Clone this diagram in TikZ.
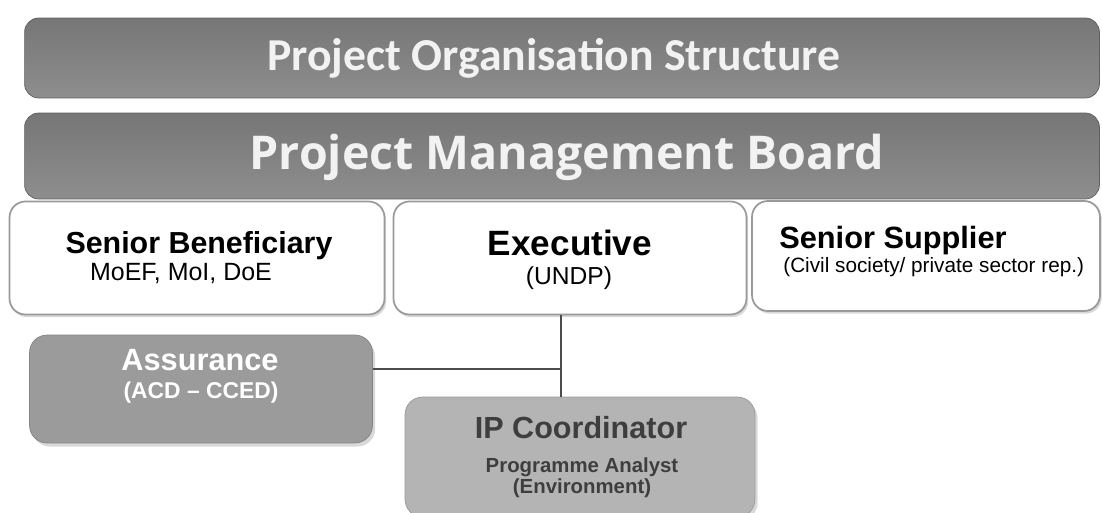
\documentclass[tikz,border=0pt]{standalone}
\usepackage{fontspec}
\setmainfont{Liberation Sans}
\newfontfamily\barfont{Open Sans}
\newfontfamily\capfont{Carlito}
\usetikzlibrary{shadows}

\definecolor{bargray}{HTML}{8E8E8E}
\definecolor{bardark}{HTML}{767676}
\definecolor{assgray}{HTML}{9B9B9B}
\definecolor{ipgray}{HTML}{B4B4B4}
\definecolor{ipdark}{HTML}{3E3E3E}
\definecolor{edgegray}{HTML}{9A9A9A}

\newcommand{\fs}[1]{\fontsize{#1}{#1}\selectfont}

\tikzset{
  bar/.style={rounded corners=8pt, draw=bardark!80!black, top color=bardark, bottom color=bargray, inner sep=0pt},
  bartext/.style={text=white!95!black, inner sep=0pt},
  whitebox/.style={rounded corners=9pt, draw=edgegray, fill=white, line width=1pt, inner sep=0pt,
    drop shadow={opacity=0.3, shadow xshift=1pt, shadow yshift=-1.5pt}},
  graybox/.style={rounded corners=10pt, fill=#1, draw=#1!85!black, line width=0.4pt, inner sep=0pt,
    drop shadow={opacity=0.3, shadow xshift=1.5pt, shadow yshift=-2pt}},
  head/.style={font=\bfseries\fs{#1}, inner sep=0pt},
  sub/.style={font=\fs{#1}, inner sep=0pt},
  link/.style={draw=black!70, line width=0.6pt}
}

\begin{document}
\begin{tikzpicture}[x=0.02cm, y=-0.02cm]
\useasboundingbox (0,0) rectangle (1102,513);

% header bars
\node[bar, minimum width=21.5cm, minimum height=1.6cm] (title) at (562,58) {};
\node[bartext, font=\capfont\bfseries\fs{26}] (title-t) at (554,58) {Project Organisation Structure};
\node[bar, minimum width=21.5cm, minimum height=1.72cm] (board) at (562,156) {};
\node[bartext, font=\barfont\bfseries\fs{26.5}] (board-t) at (567,157) {Project Management Board};

% board members
\node[whitebox, minimum width=7.5cm, minimum height=2.26cm] (benef) at (197,258) {};
\node[head=17.3] (benef-h) at (199,246) {Senior Beneficiary};
\node[sub=14.2] (benef-s) at (181,274) {MoEF, MoI, DoE};

\node[whitebox, minimum width=7.06cm, minimum height=2.26cm] (exec) at (570,258) {};
\node[head=20] (exec-h) at (570,243) {Executive};
\node[sub=14] (exec-s) at (569,278) {(UNDP)};

\node[whitebox, minimum width=6.96cm, minimum height=2.2cm] (supp) at (926,256) {};
\node[head=17.5, anchor=west] (supp-h) at (779,241) {Senior Supplier};
\node[sub=11.8, anchor=west] (supp-s) at (783,267) {(Civil society/ private sector rep.)};

% assurance and coordinator
\node[graybox=assgray, minimum width=6.86cm, minimum height=2.16cm] (assur) at (201,389) {};
\node[head=17.5, text=white] (assur-h) at (200,360) {Assurance};
\node[head=13, text=white] (assur-s) at (201,393) {(ACD -- CCED)};

\node[graybox=ipgray, minimum width=7cm, minimum height=2.4cm] (ipc) at (580,457) {};
\node[head=17.4, text=ipdark] (ipc-h) at (581,428) {IP Coordinator};
\node[head=11.6, text=ipdark] (ipc-s) at (582,467) {Programme Analyst};
\node[head=11.6, text=ipdark] (ipc-e) at (582,488) {(Environment)};

% connectors
\coordinate (jn) at (561,369);
\draw[link] (exec.south -| jn) -- (ipc.north -| jn);
\draw[link] (assur.east |- jn) -- (jn);
\end{tikzpicture}
\end{document}
